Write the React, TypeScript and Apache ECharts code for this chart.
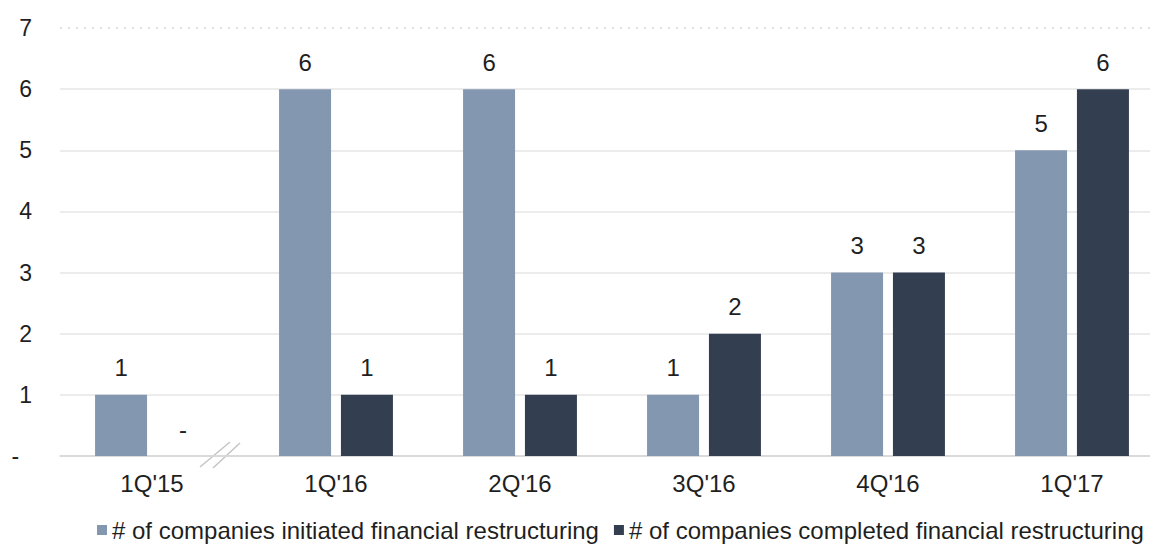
import React, { useEffect, useRef } from "react";
import * as echarts from "echarts";

const categories = ["1Q'15", "1Q'16", "2Q'16", "3Q'16", "4Q'16", "1Q'17"];
const initiated = [1, 6, 6, 1, 3, 5];
const completed = [0, 1, 1, 2, 3, 6];
const seriesNames = [
  "# of companies initiated financial restructuring",
  "# of companies completed financial restructuring",
];
const yTicks = { min: 0, max: 7, interval: 1 };

const FONT = "'Liberation Sans', Arial, sans-serif";
const TEXT = "#1f1f1f";

export default function App() {
  const ref = useRef<HTMLDivElement>(null);
  useEffect(() => {
    if (!ref.current) return;
    const chart = echarts.init(ref.current, undefined, { renderer: "svg" });
    const fmt = (p: any) => (p.value === 0 ? "-" : String(p.value));
    const labelCfg = {
      show: true,
      position: "top",
      distance: 15,
      fontSize: 24,
      fontFamily: FONT,
      color: TEXT,
      formatter: fmt,
    };
    chart.setOption({
      animation: false,
      textStyle: { fontFamily: FONT },
      grid: {
        left: 60,
        width: 1104,
        top: 28,
        bottom: 89,
        containLabel: false,
        outerBoundsMode: "none",
      },
      legend: {
        left: 92,
        bottom: -2,
        width: 1100,
        orient: "horizontal",
        itemWidth: 10,
        itemHeight: 10,
        itemGap: 15,
        icon: "rect",
        textStyle: { fontSize: 24, fontFamily: FONT, color: TEXT },
        data: seriesNames,
      },
      xAxis: {
        type: "category",
        data: categories,
        axisLine: { lineStyle: { color: "#d4d4d4", width: 1.5 } },
        axisTick: { show: false },
        axisLabel: { fontSize: 24, fontFamily: FONT, color: TEXT, margin: 15 },
      },
      yAxis: {
        type: "value",
        min: yTicks.min,
        max: yTicks.max,
        interval: yTicks.interval,
        axisLine: { show: false },
        axisTick: { show: false },
        axisLabel: {
          fontSize: 23,
          fontFamily: FONT,
          color: TEXT,
          margin: 28,
          formatter: (v: number) => (v === 0 ? "-  " : String(v)),
        },
        splitLine: {
          lineStyle: {
            color: [
              "#e6e6e6", "#e6e6e6", "#e6e6e6", "#e6e6e6",
              "#e6e6e6", "#e6e6e6", "#e6e6e6", "rgba(0,0,0,0)",
            ],
            width: 1.5,
          },
        },
      },
      series: [
        {
          name: seriesNames[0],
          type: "bar",
          data: initiated,
          barWidth: 52,
          barGap: "19%",
          itemStyle: { color: "#8497B0" },
          label: labelCfg,
          markLine: {
            silent: true,
            symbol: "none",
            label: { show: false },
            lineStyle: { color: "#d9d9d9", type: [2, 6], width: 1.5 },
            data: [{ yAxis: yTicks.max }],
          },
        },
        {
          name: seriesNames[1],
          type: "bar",
          data: completed,
          barWidth: 52,
          itemStyle: { color: "#333F50" },
          label: labelCfg,
        },
      ],
      graphic: [
        {
          type: "line",
          shape: { x1: 200, y1: 467, x2: 230, y2: 442 },
          style: { stroke: "#c4c4c4", lineWidth: 1.5 },
        },
        {
          type: "line",
          shape: { x1: 213, y1: 468, x2: 240, y2: 443 },
          style: { stroke: "#c4c4c4", lineWidth: 1.5 },
        },
      ],
    });
    return () => chart.dispose();
  }, []);
  return (
    <div
      ref={ref}
      style={{ position: "absolute", left: 0, top: 0, width: 1150, height: 545 }}
    />
  );
}
